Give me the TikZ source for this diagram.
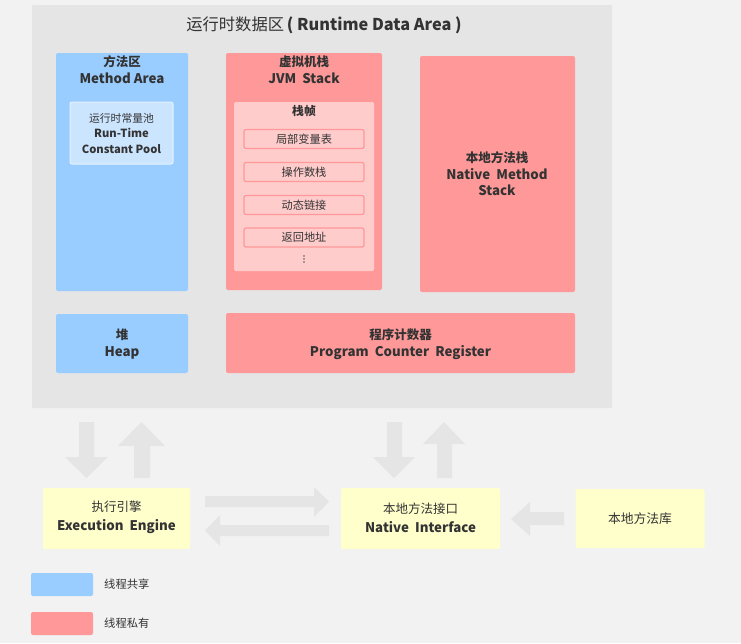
\documentclass[tikz,border=0pt]{standalone}
\usepackage{fontspec}
\setmainfont{Noto Sans CJK SC}
\usetikzlibrary{positioning,calc}
\definecolor{bgc}{HTML}{F2F2F2}
\definecolor{areac}{HTML}{E5E5E5}
\definecolor{arrc}{HTML}{E5E5E5}
\definecolor{bluec}{HTML}{99CCFF}
\definecolor{lbluec}{HTML}{CCE5FF}
\definecolor{pinkc}{HTML}{FF9999}
\definecolor{lpinkc}{HTML}{FFCCCC}
\definecolor{yelc}{HTML}{FFFFCC}
\definecolor{txtc}{HTML}{333333}
\newcommand{\zhs}[1]{{\fontsize{12.5}{16.5}\selectfont #1}}
\tikzset{
  box/.style={rounded corners=2pt, inner sep=0pt, draw=none},
  lbl/.style={text=txtc, font=\bfseries\fontsize{13.3}{16.5}\selectfont, align=center, inner sep=0pt},
  slbl/.style={text=txtc, font=\bfseries\fontsize{11.2}{15}\selectfont, align=center, inner sep=0pt},
  leglbl/.style={text=txtc, font=\fontsize{11.3}{13}\selectfont, anchor=west, inner sep=0pt},
  framebox/.style={box, fill=lpinkc, draw=pinkc, line width=1.3pt, minimum width=120pt, minimum height=19pt},
  barrow/.style={fill=arrc, draw=none}
}
\begin{document}
\begin{tikzpicture}[x=1pt,y=-1pt]
\useasboundingbox (0,0) rectangle (741,643);
\fill[bgc] (0,0) rectangle (741,643);
% runtime data area
\node[box, fill=areac, rounded corners=1pt, minimum width=580pt, minimum height=403pt] (rda) at (322,206.5) {};
\node[lbl, font=\bfseries\fontsize{16.3}{18}\selectfont] (title) at (324,25) {{\mdseries 运行时数据区}\,( Runtime Data Area )};
% method area
\node[box, fill=bluec, minimum width=132pt, minimum height=238pt] (ma) at (122,172) {};
\node[lbl] (matxt) at (122,69.5) {\zhs{方法区}\\Method Area};
\node[box, fill=lbluec, draw=white!50!lbluec, line width=1pt, minimum width=103pt, minimum height=62pt] (cp) at (121.5,133) {};
\node[slbl, font=\bfseries\fontsize{11.2}{15.5}\selectfont] (cptxt) at (121.5,133.5) {{\mdseries\fontsize{10.8}{15.5}\selectfont 运行时常量池}\\Run-Time\\Constant Pool};
% JVM stack
\node[box, fill=pinkc, minimum width=156pt, minimum height=237pt] (jvm) at (304,171.5) {};
\node[lbl] (jvmtxt) at (304,69.5) {\zhs{虚拟机栈}\\JVM\ \ Stack};
\node[box, fill=lpinkc, minimum width=140pt, minimum height=169pt] (frame) at (304,186.5) {};
\node[lbl, font=\bfseries\fontsize{11.8}{14}\selectfont] (frametxt) at (304,111) {栈帧};
\node[framebox] (f1) at (304,139) {};
\node[slbl, font=\fontsize{11.2}{13}\selectfont] at (f1) {局部变量表};
\node[framebox] (f2) at (304,172) {};
\node[slbl, font=\fontsize{11.2}{13}\selectfont] at (f2) {操作数栈};
\node[framebox] (f3) at (304,205) {};
\node[slbl, font=\fontsize{11.2}{13}\selectfont] at (f3) {动态链接};
\node[framebox] (f4) at (304,237.5) {};
\node[slbl, font=\fontsize{11.2}{13}\selectfont] at (f4) {返回地址};
\node[inner sep=0pt] (dots) at (304,259) {};
\foreach \dy in {-3,0,3} \fill[txtc!80] ($(dots)+(0,\dy)$) circle (0.8pt);
% native method stack
\node[box, fill=pinkc, minimum width=155pt, minimum height=236pt] (nms) at (497.5,174) {};
\node[lbl] (nmstxt) at (497,174) {\zhs{本地方法栈}\\Native\ \ Method\\Stack};
% heap
\node[box, fill=bluec, minimum width=132pt, minimum height=59pt] (heap) at (122,343.5) {};
\node[lbl] (heaptxt) at (122,344) {\zhs{堆}\\Heap};
% program counter
\node[box, fill=pinkc, minimum width=349pt, minimum height=60pt] (pc) at (400.5,343) {};
\node[lbl] (pctxt) at (400.5,344) {\zhs{程序计数器}\\Program\ \ Counter\ \ Register};
% bottom boxes
\node[box, fill=yelc, minimum width=147pt, minimum height=61pt] (ee) at (116.5,518.5) {};
\node[lbl, font=\bfseries\fontsize{13.3}{19}\selectfont] (eetxt) at (116.5,517.5) {{\mdseries\fontsize{12.5}{19}\selectfont 执行引擎}\\Execution\ \ Engine};
\node[box, fill=yelc, minimum width=159pt, minimum height=61pt] (ni) at (420.5,518.5) {};
\node[lbl, font=\bfseries\fontsize{13.3}{19}\selectfont] (nitxt) at (420.5,517.5) {{\mdseries\fontsize{12.5}{19}\selectfont 本地方法接口}\\Native\ \ Interface};
\node[box, fill=yelc, minimum width=129pt, minimum height=59pt] (lib) at (640,518.5) {};
\node[lbl, font=\fontsize{12.8}{16}\selectfont] (libtxt) at (640,518.5) {本地方法库};
% block arrows
\fill[barrow] (79,422) -- (94,422) -- (94,457) -- (108,457) -- (86.5,478) -- (65,457) -- (79,457) -- cycle;
\fill[barrow] (134,478) -- (150,478) -- (150,446) -- (165,446) -- (141.5,422) -- (118,446) -- (134,446) -- cycle;
\fill[barrow] (387,422) -- (402,422) -- (402,457) -- (415,457) -- (394,478) -- (373,457) -- (387,457) -- cycle;
\fill[barrow] (437,478) -- (452,478) -- (452,444) -- (465,444) -- (444,422) -- (423,444) -- (437,444) -- cycle;
\fill[barrow] (205,496) -- (314,496) -- (314,487) -- (329,501.7) -- (314,517) -- (314,507) -- (205,507) -- cycle;
\fill[barrow] (329,525) -- (220,525) -- (220,515) -- (205,530.5) -- (220,546) -- (220,536) -- (329,536) -- cycle;
\fill[barrow] (564,512) -- (530,512) -- (530,502) -- (511,519) -- (530,536) -- (530,525) -- (564,525) -- cycle;
% legend
\node[box, fill=bluec, minimum width=62pt, minimum height=23pt] (legb) at (62,584.5) {};
\node[leglbl] (legbtxt) at (104,584.5) {线程共享};
\node[box, fill=pinkc, minimum width=62pt, minimum height=23pt] (legp) at (62,623.5) {};
\node[leglbl] (legptxt) at (104,623.5) {线程私有};
\end{tikzpicture}
\end{document}
